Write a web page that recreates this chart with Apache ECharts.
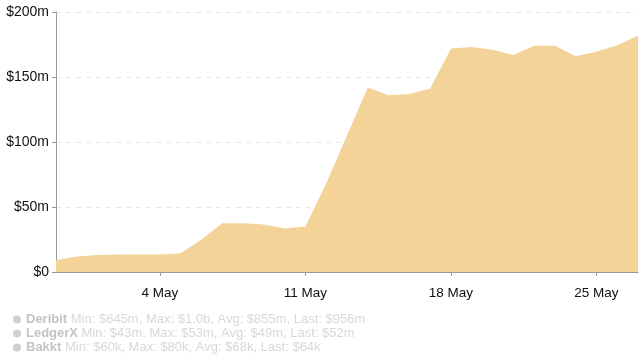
<!DOCTYPE html>
<html>
<head>
<meta charset="utf-8">
<script src="https://cdn.jsdelivr.net/npm/echarts@6/dist/echarts.min.js"></script>
<style>
  html, body { margin: 0; padding: 0; background: #fff; }
  #main { width: 640px; height: 355px; }
</style>
</head>
<body>
<div id="main"></div>
<script>
// days shown on the x axis (29 Apr - 27 May)
const days = [
  '29 Apr', '30 Apr', '1 May', '2 May', '3 May', '4 May', '5 May', '6 May', '7 May', '8 May',
  '9 May', '10 May', '11 May', '12 May', '13 May', '14 May', '15 May', '16 May', '17 May',
  '18 May', '19 May', '20 May', '21 May', '22 May', '23 May', '24 May', '25 May', '26 May', '27 May'
]
// open interest in $m
const openInterest = [
  9, 12, 13, 13.5, 13.5, 13.5, 14.5, 25, 37.5, 37.5,
  36.5, 33.5, 35, 68, 105, 142, 136, 137, 141,
  172, 173, 171, 167, 174, 174, 166, 169.5, 174.5, 182
]
const tickDays = ['4 May', '11 May', '18 May', '25 May']
const yTicks = [0, 50, 100, 150, 200]

// legend rows (greyed out exchanges)
const legendNames = ['Deribit', 'LedgerX', 'Bakkt']
const legendStats = [
  'Min: $645m, Max: $1.0b, Avg: $855m, Last: $956m',
  'Min: $43m, Max: $53m, Avg: $49m, Last: $52m',
  'Min: $60k, Max: $80k, Avg: $68k, Last: $64k'
]

const chart = echarts.init(document.getElementById('main'))
const showTick = function (i) { return tickDays.indexOf(days[i]) !== -1 }

const selected = {}
legendNames.forEach(function (n) { selected[n] = false })

const option = {
  animation: false,
  textStyle: { fontFamily: 'Liberation Sans, Arial, sans-serif' },
  grid: { left: 56, right: 2, top: 12, bottom: 83 },
  legend: {
    data: legendNames,
    selected: selected,
    orient: 'vertical',
    left: 8,
    top: 308,
    height: 80,
    icon: 'circle',
    itemWidth: 8,
    itemHeight: 8,
    itemGap: 1,
    inactiveColor: '#d0d0d0',
    inactiveBorderColor: '#d0d0d0',
    textStyle: { fontSize: 13, color: '#d0d0d0' },
    formatter: function (name) {
      const i = legendNames.indexOf(name)
      return '{n|' + name + '} {s|' + legendStats[i] + '}'
    }
  },
  xAxis: {
    type: 'category',
    data: days,
    boundaryGap: false,
    axisLine: { lineStyle: { color: '#999' } },
    axisTick: {
      alignWithLabel: true,
      length: 4,
      interval: function (i) { return showTick(i) },
      lineStyle: { color: '#999' }
    },
    axisLabel: {
      interval: function (i) { return showTick(i) },
      color: '#111',
      fontSize: 13.5,
      margin: 14
    }
  },
  yAxis: {
    type: 'value',
    min: yTicks[0],
    max: yTicks[yTicks.length - 1],
    interval: 50,
    axisLine: { show: true, lineStyle: { color: '#999' } },
    axisTick: { show: true, length: 4, lineStyle: { color: '#999' } },
    axisLabel: {
      color: '#111',
      fontSize: 14,
      margin: 7,
      formatter: function (v) { return v === 0 ? '$0' : '$' + v + 'm' }
    },
    splitLine: {
      show: true,
      showMinLine: false,
      lineStyle: { color: '#e6e6e6', type: [5, 5] }
    }
  },
  series: [
    {
      name: 'Open interest',
      type: 'line',
      data: openInterest,
      symbol: 'none',
      lineStyle: { width: 0 },
      areaStyle: { color: '#f3d397', opacity: 1 },
      z: 1
    }
  ].concat(legendNames.map(function (n) {
    return {
      name: n,
      type: 'line',
      data: [],
      itemStyle: { color: '#d0d0d0' }
    }
  }))
}

// rich text parts of the legend rows
option.legend.textStyle.rich = {
  n: { fontWeight: 'bold', color: '#c4c4c4', fontSize: 13 },
  s: { color: '#d8d8d8', fontSize: 13 }
}

chart.setOption(option)
</script>
</body>
</html>
